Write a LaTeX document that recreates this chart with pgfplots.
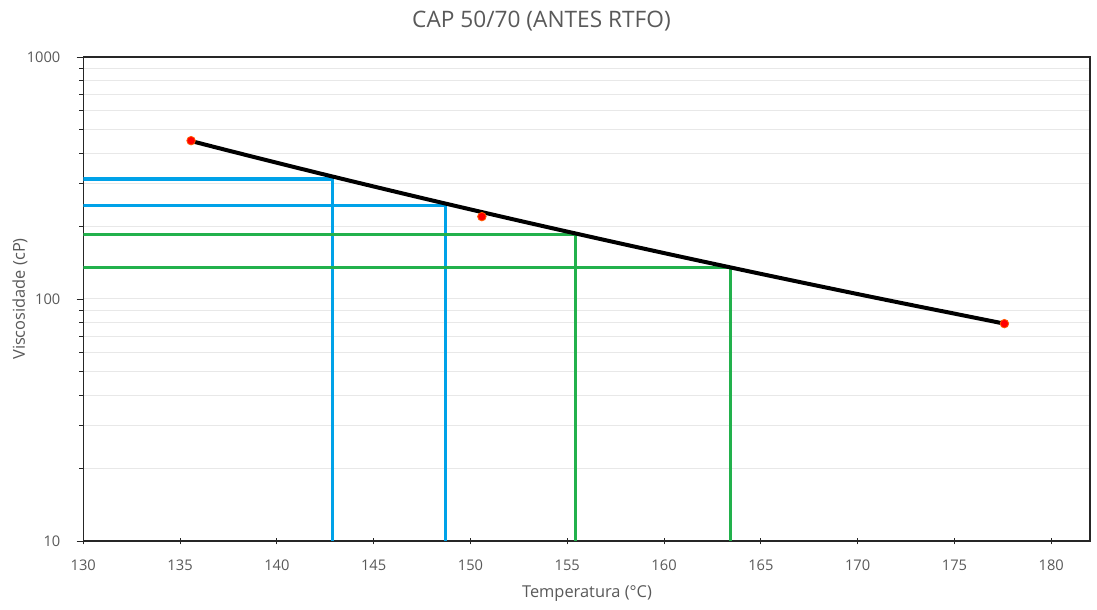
\documentclass[border=0pt]{standalone}
\usepackage{fontspec}
\setmainfont{Open Sans}
\usepackage{pgfplots}
\pgfplotsset{compat=1.18}
\definecolor{txtgray}{RGB}{89,89,89}
\definecolor{gridgray}{RGB}{232,232,232}
\definecolor{cblue}{RGB}{0,162,232}
\definecolor{cgreen}{RGB}{34,177,76}
\definecolor{frame}{RGB}{38,38,38}
\begin{document}
\begin{tikzpicture}
\path[use as bounding box] (0,0) rectangle (822.75pt,457.5pt);
\begin{axis}[
  at={(62.44pt,51.75pt)}, anchor=south west,
  scale only axis, width=755.06pt, height=363pt,
  ymode=log, log basis y=10,
  xmin=130, xmax=182, ymin=10, ymax=1000,
  xtick={130,135,...,180},
  ytick={10,100,1000}, yticklabels={10,100,1000},
  minor ytick={20,30,40,50,60,70,80,90,200,300,400,500,600,700,800,900},
  axis line style={frame, line width=0.9pt},
  tick style={frame, line width=0.7pt},
  xtick align=center, ytick align=outside,
  major tick length=5pt, minor tick length=3pt,
  xtick pos=bottom, ytick pos=left,
  ymajorgrids, yminorgrids,
  major grid style={gridgray, line width=0.75pt},
  minor grid style={gridgray, line width=0.75pt},
  /pgf/number format/assume math mode=true,
  /pgf/number format/1000 sep={},
  ticklabel style={font=\fontsize{11}{13}\selectfont, text=txtgray, inner sep=0pt},
  xticklabel style={anchor=base, yshift=-20pt},
  yticklabel style={anchor=east, xshift=-12pt},
  clip=true,
]
\addplot[cblue, line width=2.6pt, line join=miter] coordinates {(130,313) (142.87,313) (142.87,10)};
\addplot[cblue, line width=2.6pt, line join=miter] coordinates {(130,243) (148.70,243) (148.70,10)};
\addplot[cgreen, line width=2.6pt, line join=miter] coordinates {(130,185) (155.43,185) (155.43,10)};
\addplot[cgreen, line width=2.6pt, line join=miter] coordinates {(130,134.7) (163.42,134.7) (163.42,10)};
\addplot[black, line width=3pt, smooth] coordinates {
(135.57,449.6) (137.5,410.5) (140,365.6) (142.5,326.2) (145,291.7) (147.5,261.3) (150,234.5)
(152.5,210.8) (155,189.9) (157.5,171.3) (160,154.8) (162.5,140.1) (165,127.0) (167.5,115.3)
(170,104.8) (172.5,95.4) (175,87.0) (177.58,79.1)};
\addplot[only marks, mark=*, mark size=3.2pt, mark options={fill=red, draw=orange!70!red, line width=0.6pt}] coordinates {
(135.57,451) (150.59,219) (177.58,79.1)};
\end{axis}
\node[anchor=base, text=txtgray, font=\fontsize{17}{20}\selectfont, inner sep=0pt] at (406.1pt,436.7pt) {CAP 50/70 (ANTES RTFO)};
\node[anchor=base, text=txtgray, font=\fontsize{12.3}{15}\selectfont, inner sep=0pt] at (440.25pt,9.5pt) {Temperatura (°C)};
\node[anchor=base, rotate=90, text=txtgray, font=\fontsize{12.3}{15}\selectfont, inner sep=0pt] at (18.75pt,233.25pt) {Viscosidade (cP)};
\end{tikzpicture}
\end{document}
